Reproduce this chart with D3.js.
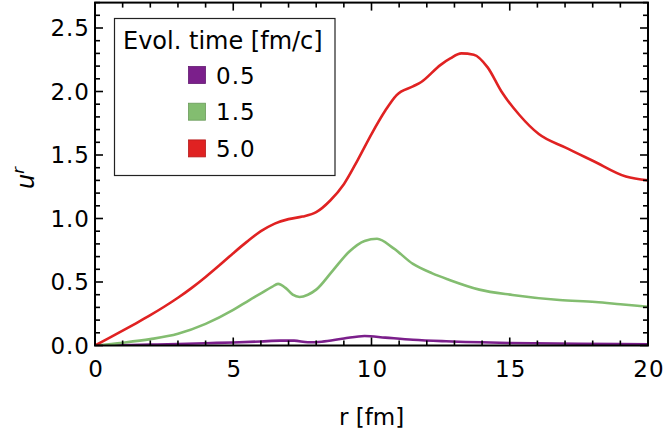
<!DOCTYPE html>
<html>
<head>
<meta charset="utf-8">
<script src="https://cdn.jsdelivr.net/npm/d3@7"></script>
<style>
  html, body { margin: 0; padding: 0; background: #fff; }
  svg { display: block; }
  text { font-family: "DejaVu Sans", sans-serif; fill: #000; }
</style>
</head>
<body>
<svg id="chart" width="666" height="438"></svg>
<script>
// Radial flow velocity u^r(r) at three evolution times
const seriesNames = ["0.5", "1.5", "5.0"];
const seriesColors = ["#7b1f8b", "#83bd70", "#e02222"];

const t05 = [
  [0, 0], [1, 0.003], [2, 0.007], [3, 0.012], [4, 0.018], [5, 0.024],
  [6, 0.032], [6.7, 0.038], [7.2, 0.038], [7.7, 0.026], [8.2, 0.03],
  [9, 0.055], [9.75, 0.075], [10.5, 0.062], [11.5, 0.045], [12.7, 0.033],
  [15, 0.02], [17.5, 0.014], [20, 0.01]
];
const t15 = [
  [0, 0], [1, 0.022], [2, 0.05], [3, 0.092], [4, 0.17], [5, 0.28],
  [5.6, 0.36], [6, 0.41], [6.4, 0.462], [6.62, 0.485], [6.9, 0.452],
  [7.15, 0.4], [7.4, 0.382], [7.7, 0.4], [8, 0.44], [8.6, 0.59], [9.2, 0.74],
  [9.75, 0.823], [10.2, 0.84], [10.8, 0.765], [11.5, 0.642], [12.2, 0.568],
  [12.8, 0.518], [13.9, 0.44], [15.1, 0.398], [16.8, 0.358], [18.1, 0.343],
  [19, 0.325], [20, 0.305]
];
const t50 = [
  [0, 0], [0.5, 0.058], [1, 0.117], [1.5, 0.177], [2, 0.239], [2.5, 0.305],
  [3, 0.376], [3.5, 0.454], [4, 0.54], [4.5, 0.632], [5, 0.727], [5.5, 0.818],
  [6, 0.9], [6.5, 0.96], [7, 0.995], [7.5, 1.015], [8, 1.05], [8.5, 1.14],
  [9, 1.27], [9.5, 1.46], [10, 1.665], [10.5, 1.85], [10.9, 1.97],
  [11.5, 2.04], [11.8, 2.075], [12.5, 2.21], [12.85, 2.26], [13.25, 2.3],
  [13.7, 2.29], [14.2, 2.19], [14.7, 2.0], [15.35, 1.815], [16.05, 1.665],
  [17, 1.56], [18, 1.455], [19.2, 1.33], [20, 1.3]
];
const seriesData = [t05, t15, t50];

const xTicks = [0, 5, 10, 15, 20];
const yTicks = [0, 0.5, 1, 1.5, 2, 2.5];

const svg = d3.select("#chart");
const pLeft = 95, pRight = 648, pTop = 2.6, pBottom = 345.5;

const x = d3.scaleLinear().domain([0, 20]).range([pLeft, pRight]);
const y = d3.scaleLinear().domain([0, 2.7]).range([pBottom, pTop]);

const smooth = d3.line().x(d => x(d[0])).y(d => y(d[1])).curve(d3.curveMonotoneX);

svg.append("clipPath").attr("id", "clip")
  .append("rect").attr("x", pLeft).attr("y", pTop)
  .attr("width", pRight - pLeft).attr("height", pBottom - pTop);

// curves
svg.append("g").attr("clip-path", "url(#clip)")
  .selectAll("path")
  .data(seriesData)
  .join("path")
  .attr("fill", "none")
  .attr("stroke", (d, i) => seriesColors[i])
  .attr("stroke-width", 2.6)
  .attr("stroke-linejoin", "round")
  .attr("d", smooth);

// frame ticks: major every 5 / 0.5, minor every 1 / 0.1
const xMinor = d3.range(0, 20.001, 1);
const yMinor = d3.range(0, 2.7001, 0.1).map(v => +v.toFixed(2));
const isMajorX = v => Math.abs(v / 5 - Math.round(v / 5)) < 1e-6;
const isMajorY = v => Math.abs(v / 0.5 - Math.round(v / 0.5)) < 1e-6;
const tk = svg.append("g").attr("stroke", "#000").attr("stroke-width", 1.6);

xMinor.forEach(v => {
  const len = isMajorX(v) ? 8 : 5;
  tk.append("line").attr("x1", x(v)).attr("x2", x(v)).attr("y1", pBottom).attr("y2", pBottom - len);
  tk.append("line").attr("x1", x(v)).attr("x2", x(v)).attr("y1", pTop).attr("y2", pTop + len);
});
yMinor.forEach(v => {
  const len = isMajorY(v) ? 8 : 5;
  tk.append("line").attr("y1", y(v)).attr("y2", y(v)).attr("x1", pLeft).attr("x2", pLeft + len);
  tk.append("line").attr("y1", y(v)).attr("y2", y(v)).attr("x1", pRight).attr("x2", pRight - len);
});

svg.append("rect")
  .attr("x", pLeft).attr("y", pTop)
  .attr("width", pRight - pLeft).attr("height", pBottom - pTop)
  .attr("fill", "none").attr("stroke", "#000").attr("stroke-width", 2);

// tick labels
svg.append("g").selectAll("text").data(xTicks).join("text")
  .attr("x", d => x(d) + 1).attr("y", 377)
  .attr("text-anchor", "middle")
  .attr("font-size", 23).attr("letter-spacing", 1)
  .text(d => d3.format("d")(d));

svg.append("g").selectAll("text").data(yTicks).join("text")
  .attr("x", 90).attr("y", d => y(d) + 8)
  .attr("text-anchor", "end")
  .attr("font-size", 23).attr("letter-spacing", 1)
  .text(d => d3.format(".1f")(d));

// axis titles
svg.append("text")
  .attr("x", (pLeft + pRight) / 2).attr("y", 425)
  .attr("text-anchor", "middle").attr("font-size", 23)
  .text("r [fm]");

const yl = svg.append("text")
  .attr("transform", "translate(34,178) rotate(-90)")
  .attr("text-anchor", "middle").attr("font-size", 24);
yl.append("tspan").attr("font-style", "italic").text("u");
yl.append("tspan").attr("font-style", "italic").attr("font-size", 16).attr("dy", -10).text("r");

// legend
const lg = svg.append("g");
lg.append("rect")
  .attr("x", 114.5).attr("y", 18.5).attr("width", 220.5).attr("height", 157)
  .attr("fill", "#fff").attr("stroke", "#222").attr("stroke-width", 1.2);
lg.append("text").attr("x", 123).attr("y", 48.5).attr("font-size", 24)
  .text("Evol. time [fm/c]");
const rows = lg.selectAll("g.row").data(seriesNames).join("g")
  .attr("transform", (d, i) => `translate(0,${75 + i * 36.7})`);
rows.append("rect")
  .attr("x", 188.5).attr("y", -8.5).attr("width", 17).attr("height", 17)
  .attr("fill", (d, i) => seriesColors[i])
  .attr("stroke", (d, i) => d3.color(seriesColors[i]).darker(0.6))
  .attr("stroke-width", 0.8);
rows.append("text").attr("x", 216).attr("y", 8.5)
  .attr("font-size", 23).attr("letter-spacing", 1)
  .text(d => d);
</script>
</body>
</html>
